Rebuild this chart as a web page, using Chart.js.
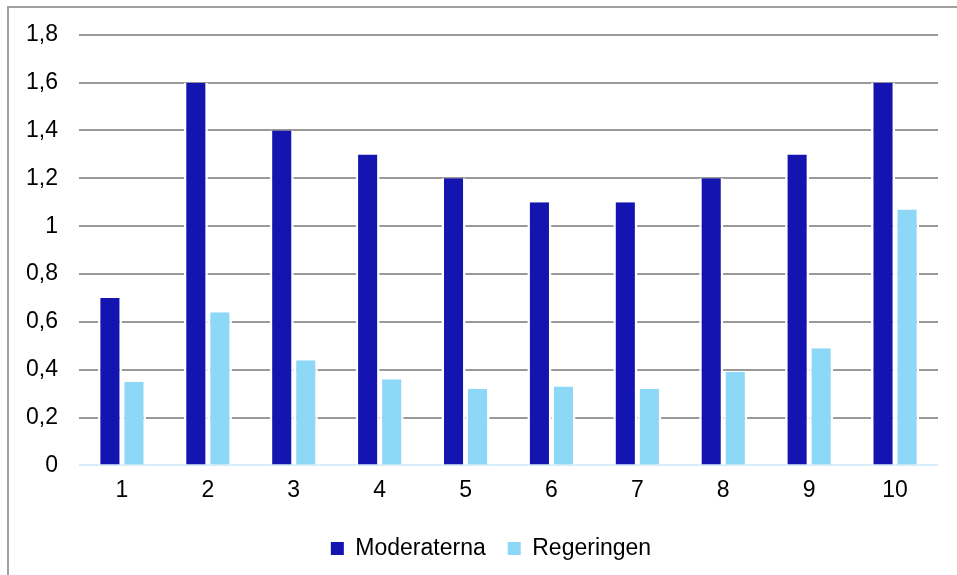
<!DOCTYPE html>
<html>
<head>
<meta charset="utf-8">
<script src="https://cdn.jsdelivr.net/npm/chart.js@4.4.0/dist/chart.umd.min.js"></script>
<style>
    html, body { margin: 0; padding: 0; background: #fff; overflow: hidden; }
    #wrap { position: relative; width: 957px; height: 575px; }
    #frame {
        position: absolute; left: 7px; top: 6px; width: 960px; height: 580px;
        border: 2px solid #a0a0a0; pointer-events: none; box-sizing: border-box;
    }
</style>
</head>
<body>
<div id="wrap">
    <canvas id="barChart" width="957" height="575"></canvas>
    <div id="frame"></div>
</div>
<script>
// --- Data ---
const categories = ['1', '2', '3', '4', '5', '6', '7', '8', '9', '10'];
const moderaterna = [0.7, 1.6, 1.4, 1.3, 1.2, 1.1, 1.1, 1.2, 1.3, 1.6];
const regeringen = [0.35, 0.64, 0.44, 0.36, 0.32, 0.33, 0.32, 0.39, 0.49, 1.07];
const yTicks = [0, 0.2, 0.4, 0.6, 0.8, 1, 1.2, 1.4, 1.6, 1.8];

const FONT = "'Liberation Sans', Arial, sans-serif";
const FONT_SIZE = 23;

// white side borders give the small gap between the two bars
const barBorder = { left: 2.5, right: 2.5, top: 0, bottom: 0 };

// nudges the legend right so it sits under the plot area, like the original
const legendShift = {
    id: 'legendShift',
    afterLayout(chart) {
        chart.legend.left += 22;
        chart.legend.right += 22;
    }
};

const ctx = document.getElementById('barChart').getContext('2d');
new Chart(ctx, {
    type: 'bar',
    data: {
        labels: categories,
        datasets: [
            {
                label: 'Moderaterna',
                data: moderaterna,
                backgroundColor: '#1414B0',
                borderColor: '#ffffff',
                borderWidth: barBorder,
                borderSkipped: false
            },
            {
                label: 'Regeringen',
                data: regeringen,
                backgroundColor: '#8ED8F7',
                borderColor: '#ffffff',
                borderWidth: barBorder,
                borderSkipped: false
            }
        ]
    },
    plugins: [legendShift],
    options: {
        responsive: false,
        animation: false,
        devicePixelRatio: 1,
        layout: { padding: { top: 26, right: 19, bottom: 5, left: 0 } },
        datasets: {
            bar: { categoryPercentage: 0.56, barPercentage: 1 }
        },
        plugins: {
            tooltip: { enabled: false },
            legend: {
                position: 'bottom',
                labels: {
                    color: '#000',
                    font: { family: FONT, size: FONT_SIZE },
                    boxWidth: 13,
                    boxHeight: 13,
                    padding: 22,
                    generateLabels: chart => chart.data.datasets.map((ds, i) => ({
                        text: ds.label,
                        fillStyle: ds.backgroundColor,
                        strokeStyle: ds.backgroundColor,
                        lineWidth: 0,
                        datasetIndex: i
                    }))
                }
            }
        },
        scales: {
            x: {
                grid: { display: false, drawTicks: false },
                border: { display: false },
                ticks: {
                    color: '#000',
                    font: { family: FONT, size: FONT_SIZE },
                    padding: 11,
                    maxRotation: 0
                }
            },
            y: {
                min: 0,
                max: 1.8,
                afterBuildTicks: axis => { axis.ticks = yTicks.map(v => ({ value: v })); },
                afterFit: axis => { axis.width = 79; },
                grid: {
                    drawTicks: false,
                    lineWidth: 2,
                    color: c => c.tick && c.tick.value === 0 ? '#D6EEF9' : '#999999'
                },
                border: { display: false },
                ticks: {
                    color: '#000',
                    font: { family: FONT, size: FONT_SIZE },
                    padding: 21,
                    callback: v => String(v).replace('.', ',')
                }
            }
        }
    }
});
</script>
</body>
</html>
